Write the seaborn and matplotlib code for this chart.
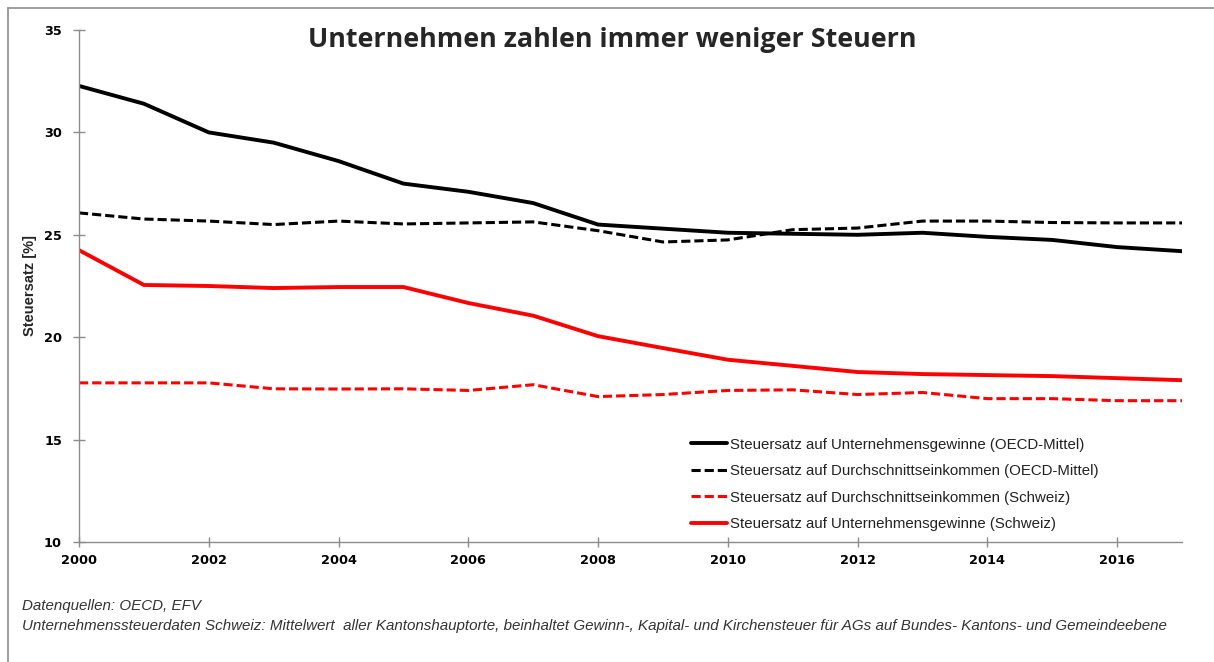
import matplotlib
matplotlib.use("Agg")
import matplotlib.pyplot as plt
import seaborn as sns
import pandas as pd
from matplotlib.lines import Line2D

years = list(range(2000, 2018))
oecd_corp = [32.27, 31.4, 30.0, 29.5, 28.6, 27.5, 27.1, 26.55, 25.5, 25.3, 25.1, 25.05, 25.0, 25.1, 24.9, 24.75, 24.4, 24.2]
oecd_income = [26.07, 25.77, 25.67, 25.5, 25.67, 25.53, 25.58, 25.63, 25.2, 24.65, 24.75, 25.25, 25.33, 25.67, 25.67, 25.6, 25.58, 25.58]
ch_income = [17.77, 17.77, 17.77, 17.48, 17.47, 17.48, 17.4, 17.68, 17.1, 17.2, 17.4, 17.43, 17.2, 17.3, 17.0, 17.0, 16.9, 16.9]
ch_corp = [24.25, 22.55, 22.5, 22.4, 22.45, 22.45, 21.67, 21.05, 20.05, 19.47, 18.9, 18.6, 18.3, 18.2, 18.15, 18.1, 18.0, 17.9]

labels = [
    "Steuersatz auf Unternehmensgewinne (OECD-Mittel)",
    "Steuersatz auf Durchschnittseinkommen (OECD-Mittel)",
    "Steuersatz auf Durchschnittseinkommen (Schweiz)",
    "Steuersatz auf Unternehmensgewinne (Schweiz)",
]
title = "Unternehmen zahlen immer weniger Steuern"
ylabel = "Steuersatz [%]"
yticks = [10, 15, 20, 25, 30, 35]
xticks = list(range(2000, 2017, 2))
footer1 = "Datenquellen: OECD, EFV"
footer2 = ("Unternehmenssteuerdaten Schweiz: Mittelwert  aller Kantonshauptorte, beinhaltet Gewinn-, "
           "Kapital- und Kirchensteuer für AGs auf Bundes- Kantons- und Gemeindeebene")

sns.set_style("white")
plt.rcParams['font.family'] = ['Liberation Sans', 'DejaVu Sans']

fig = plt.figure(figsize=(12.14, 6.62), dpi=100)
ax = fig.add_axes([79/1214, 1-542/662, (1182-79)/1214, (542-30)/662])

series = [oecd_corp, oecd_income, ch_income, ch_corp]
colors = ["black", "black", "#ff0000", "#ff0000"]
styles = ["-", (0, (3.0, 1.3)), (0, (3.0, 1.3)), "-"]
widths = [2.8, 2.2, 2.2, 2.8]

for vals, lab, c, ls, lw in zip(series, labels, colors, styles, widths):
    df = pd.DataFrame({"Jahr": years, "Wert": vals})
    sns.lineplot(data=df, x="Jahr", y="Wert", ax=ax, color=c, linewidth=lw,
                 linestyle=ls, label=lab, legend=False)

tickfont = dict(fontweight="bold", fontsize=9.3, family=["DejaVu Sans"])
ax.set_xlim(2000, 2017)
ax.set_ylim(10, 35)
ax.set_xticks(xticks)
ax.set_yticks(yticks)
ax.set_xticklabels([str(x) for x in xticks], **tickfont)
ax.set_yticklabels([str(y) for y in yticks], **tickfont)
ax.set_xlabel("")
ax.set_ylabel(ylabel, fontweight="bold", fontsize=10.5, labelpad=5)
for s in ["top", "right"]:
    ax.spines[s].set_visible(False)
for s in ["left", "bottom"]:
    ax.spines[s].set_color("#8c8c8c")
    ax.spines[s].set_linewidth(1.0)
ax.tick_params(axis="both", direction="inout", width=1.0, color="#8c8c8c",
               labelcolor="black", bottom=True, left=True)
ax.tick_params(axis="x", length=7, pad=5)
ax.tick_params(axis="y", length=8.5, pad=8)

handles = [Line2D([0], [0], color=c, linestyle=ls, linewidth=lw)
           for c, ls, lw in zip(colors, styles, widths)]
leg = ax.legend(handles, labels, loc="lower left", bbox_to_anchor=(0.545, 0.0),
                frameon=False, fontsize=10.8, handlelength=2.4, handletextpad=0.2,
                labelspacing=0.83, borderaxespad=0.33)
for t in leg.get_texts():
    t.set_color("#222222")

fig.text(0.504, 0.94, title, ha="center", va="center", fontsize=19.4, fontweight="bold",
         family=["Open Sans", "DejaVu Sans"])

fig.text(22/1214, 1-606/662, footer1, ha="left", va="center", fontsize=10.9, style="italic",
         color="#333333", family=["Liberation Sans"])
fig.text(22/1214, 1-626/662, footer2, ha="left", va="center", fontsize=10.9, style="italic",
         color="#333333", family=["Liberation Sans"])

# figure border
fig.add_artist(Line2D([8/1214, 1], [1-8/662, 1-8/662], transform=fig.transFigure,
                      color="#8c8c8c", linewidth=1.2))
fig.add_artist(Line2D([8/1214, 8/1214], [0, 1-8/662], transform=fig.transFigure,
                      color="#8c8c8c", linewidth=1.2))

fig.savefig("out.png", dpi=100)
